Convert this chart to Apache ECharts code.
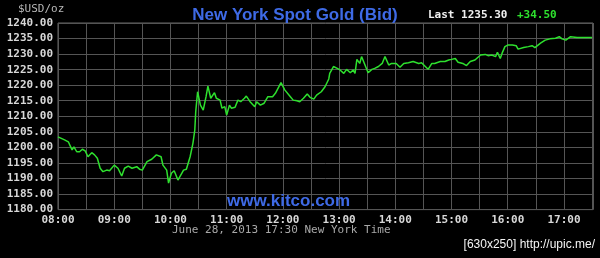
<!DOCTYPE html>
<html><head><meta charset="utf-8">
<script src="https://cdn.jsdelivr.net/npm/echarts@6/dist/echarts.min.js"></script>
<style>html,body{margin:0;padding:0;background:#000}#c{width:600px;height:258px}</style>
</head><body><div id="c"></div>
<script>
// minutes since 08:00 New York time
const times = [0,7,11,15,17,20,23,26,29,32,36,39,42,45,48,52,55,60,64,68,71,75,79,84,87,90,95,100,105,110,112,116,118,121,124,128,134,137,141,144,146,147,149,152,155,158,160,163,167,169,173,175,178,180,183,185,189,192,195,199,201,205,210,212,216,220,224,229,232,238,242,248,251,255,258,262,266,269,273,276,281,285,289,290,294,298,301,305,308,312,315,317,319,322,324,327,331,335,338,342,346,349,353,356,361,365,369,374,379,385,388,392,395,399,402,408,413,417,420,424,427,432,436,440,445,451,456,459,463,467,469,472,474,477,480,485,489,491,497,502,506,509,515,520,525,531,535,538,542,547,549,554,570];
const prices = [1203.4,1202.4,1201.8,1199.2,1200.2,1198.6,1198.6,1199.4,1198.9,1197.0,1198.3,1197.6,1196.5,1193.3,1192.2,1192.7,1192.5,1194.3,1193.3,1190.8,1193.3,1194.0,1193.3,1193.8,1193.0,1192.7,1195.4,1196.2,1197.6,1197.0,1194.3,1192.7,1188.5,1191.7,1192.5,1189.5,1192.7,1193.0,1197.0,1201.3,1205.6,1211.5,1217.9,1213.6,1212.0,1216.3,1219.7,1215.8,1217.6,1215.8,1215.2,1212.6,1213.1,1210.4,1213.6,1212.6,1212.9,1215.2,1214.7,1215.8,1216.5,1214.7,1213.1,1214.7,1213.6,1214.2,1216.3,1216.3,1217.4,1220.8,1218.5,1216.3,1215.2,1215.0,1214.7,1215.8,1217.2,1216.1,1215.5,1216.8,1217.9,1219.5,1222.0,1223.8,1226.0,1225.4,1224.9,1223.8,1225.1,1224.0,1224.9,1223.8,1228.3,1227.0,1229.2,1227.0,1224.0,1225.1,1225.4,1226.0,1227.0,1229.2,1226.5,1227.0,1227.0,1225.8,1227.0,1227.2,1227.6,1227.0,1227.2,1226.0,1225.1,1227.0,1227.0,1227.6,1227.6,1228.1,1228.3,1228.6,1227.4,1227.0,1226.3,1227.6,1228.1,1229.7,1229.9,1229.5,1229.7,1229.2,1230.6,1228.6,1230.3,1232.4,1232.9,1232.9,1232.7,1231.6,1232.1,1232.4,1232.7,1232.1,1233.5,1234.5,1234.9,1235.1,1235.6,1234.9,1234.5,1235.6,1235.1,1235.3,1235.3];
const yTicks = [1180,1185,1190,1195,1200,1205,1210,1215,1220,1225,1230,1235,1240];
const titleText = 'New York Spot Gold (Bid)';
const lastText = 'Last 1235.30';
const changeText = '+34.50';
const unitText = '$USD/oz';
const dateText = 'June 28, 2013 17:30 New York Time';
const siteText = 'www.kitco.com';
const watermark = '[630x250] http://upic.me/';

const mono = "'DejaVu Sans Mono', monospace";
const chart = echarts.init(document.getElementById('c'), null, {renderer: 'canvas'});
chart.setOption({
  backgroundColor: '#000',
  animation: false,
  title: {
    text: titleText, left: 290, top: 2, textAlign: 'center',
    textStyle: {color: '#3e6ae6', fontFamily: "'Liberation Sans', Arial, sans-serif", fontSize: 17, fontWeight: 'bold'}
  },
  grid: {left: 58, right: 7, top: 23, bottom: 48.4, show: true, borderColor: '#666', borderWidth: 1},
  xAxis: {
    type: 'value', min: 0, max: 571, interval: 30,
    axisLine: {show: false}, axisTick: {show: false},
    splitLine: {show: true, lineStyle: {color: '#555', width: 1}},
    axisLabel: {
      margin: 5, color: '#d8d8d8', fontFamily: mono, fontSize: 11, fontWeight: 'bold',
      showMaxLabel: false,
      formatter: v => (v % 60 === 0 ? String(8 + v / 60).padStart(2, '0') + ':00' : '')
    }
  },
  yAxis: {
    type: 'value', min: yTicks[0], max: yTicks[yTicks.length - 1], interval: 5,
    axisLine: {show: false}, axisTick: {show: false},
    splitLine: {show: true, lineStyle: {color: '#555', width: 1}},
    axisLabel: {margin: 5, color: '#d8d8d8', fontFamily: mono, fontSize: 11, fontWeight: 'bold',
      formatter: v => v.toFixed(2)}
  },
  series: [{
    type: 'line', data: times.map((t, i) => [t, prices[i]]),
    showSymbol: false, lineStyle: {color: '#2ee02e', width: 1.5}, z: 5
  }],
  graphic: [
    {type: 'text', left: 18, top: 4, style: {text: unitText, fill: '#b8b8b8', font: '11px ' + mono}},
    {type: 'text', left: 428, top: 10, style: {text: lastText, fill: '#f0f0f0', font: 'bold 11px ' + mono}},
    {type: 'text', left: 517, top: 10, style: {text: changeText, fill: '#2ee02e', font: 'bold 11px ' + mono}},
    {type: 'text', left: 227, top: 193, z: 10, style: {text: siteText, fill: '#3e6ae6', font: "bold 17px 'Liberation Sans', Arial, sans-serif"}},
    {type: 'text', left: 172, top: 225, style: {text: dateText, fill: '#a8a8a8', font: '11px ' + mono}},
    {type: 'text', right: 5, top: 239, style: {text: watermark, fill: '#f4f4f4', font: "12px 'Liberation Sans', Arial, sans-serif"}}
  ]
});
</script></body></html>
